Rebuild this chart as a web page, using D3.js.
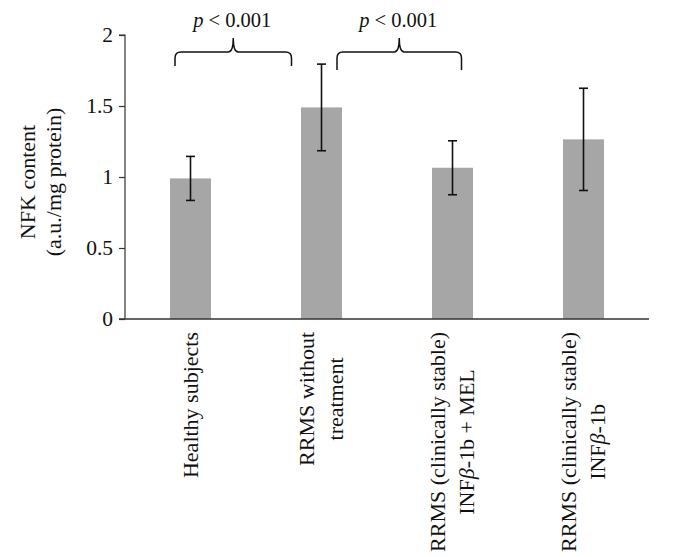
<!DOCTYPE html>
<html>
<head>
<meta charset="utf-8">
<script src="https://cdn.jsdelivr.net/npm/d3@7"></script>
<style>
  html, body { margin: 0; padding: 0; background: #fff; }
  svg { display: block; font-family: "Liberation Serif", "DejaVu Serif", serif; }
</style>
</head>
<body>
<svg id="chart" width="684" height="557"></svg>
<script>
// ---- data ----
const categories = [
  ["Healthy subjects"],
  ["RRMS without", "treatment"],
  ["RRMS (clinically stable)", "INFβ-1b + MEL"],
  ["RRMS (clinically stable)", "INFβ-1b"]
];
const values = [0.99, 1.49, 1.065, 1.265];
const errors = [0.155, 0.305, 0.19, 0.36];
const yTicks = [0, 0.5, 1, 1.5, 2];
const yTickLabels = ["0", "0.5", "1", "1.5", "2"];
const yLabel = ["NFK content", "(a.u./mg protein)"];
const comparisons = [
  { from: 0, to: 1, label: "< 0.001" },
  { from: 1, to: 2, label: "< 0.001" }
];

// ---- layout ----
const svg = d3.select("#chart");
const mLeft = 125, mRight = 649, mTop = 35, mBottom = 319;
const labelFont = 22, tickFont = 21.5, pFont = 20.5;

const x = d3.scaleBand().domain(d3.range(categories.length)).range([mLeft, mRight]).padding(0);
const y = d3.scaleLinear().domain([0, 2]).range([mBottom, mTop]);
const barW = x.bandwidth() * 0.313;
const cx = i => x(i) + x.bandwidth() / 2;

// bars
svg.append("g").selectAll("rect").data(values).join("rect")
  .attr("x", (d, i) => cx(i) - barW / 2)
  .attr("y", d => y(d))
  .attr("width", barW)
  .attr("height", d => y(0) - y(d))
  .attr("fill", "#a6a6a6");

// error bars
const eg = svg.append("g").attr("stroke", "#111").attr("stroke-width", 1.6);
values.forEach((v, i) => {
  const x0 = cx(i), hi = y(v + errors[i]), lo = y(v - errors[i]);
  eg.append("line").attr("x1", x0).attr("x2", x0).attr("y1", hi).attr("y2", lo);
  eg.append("line").attr("x1", x0 - 4.5).attr("x2", x0 + 4.5).attr("y1", hi).attr("y2", hi);
  eg.append("line").attr("x1", x0 - 4.5).attr("x2", x0 + 4.5).attr("y1", lo).attr("y2", lo);
});

// y axis
const yAxis = d3.axisLeft(y).tickValues(yTicks).tickFormat((d, i) => yTickLabels[i]).tickSize(6).tickPadding(6);
const ya = svg.append("g").attr("transform", `translate(${mLeft},0)`).call(yAxis);
ya.select(".domain").attr("stroke", "#333").attr("stroke-width", 1.2).attr("d", `M-6,${mTop}H0V${mBottom}`);
ya.selectAll(".tick line").attr("stroke", "#333").attr("stroke-width", 1.2);
ya.selectAll(".tick text").attr("font-family", "Liberation Serif").attr("font-size", tickFont).attr("fill", "#111");

// x axis line
const xAxis = d3.axisBottom(x).tickSize(0).tickFormat("");
const xa = svg.append("g").attr("transform", `translate(0,${mBottom})`).call(xAxis);
xa.select(".domain").attr("stroke", "#333").attr("stroke-width", 1.4).attr("d", `M${mLeft - 6},0H${mRight}`);

// x category labels (rotated, block top-aligned, lines centered)
categories.forEach((lines, i) => {
  const g = svg.append("g");
  const texts = lines.map(line => {
    const t = g.append("text").attr("font-size", labelFont).attr("fill", "#111").attr("text-anchor", "middle");
    const parts = line.split("β");
    parts.forEach((p, k) => {
      t.append("tspan").text(p);
      if (k < parts.length - 1) t.append("tspan").attr("font-style", "italic").text("β");
    });
    return t;
  });
  const maxW = d3.max(texts, t => t.node().getComputedTextLength());
  const lineGap = 28.5;
  const n = lines.length;
  texts.forEach((t, k) => {
    const off = (k - (n - 1) / 2) * lineGap;
    const px = cx(i) + off + 7;
    const py = mBottom + 13 + maxW / 2;
    t.attr("transform", `translate(${px},${py}) rotate(-90)`);
  });
});

// y label
const yl = svg.append("text").attr("font-size", labelFont).attr("fill", "#111").attr("text-anchor", "middle")
  .attr("transform", `translate(35,182) rotate(-90)`);
yLabel.forEach((l, k) => yl.append("tspan").attr("x", 0).attr("dy", k === 0 ? 0 : 25.5).text(l));

// significance brackets
const brGeom = [
  { x1: cx(0) - 15.5, x2: cx(1) - 30, h: 52, end: 66, peak: 38 },
  { x1: cx(1) + 15.5, x2: cx(2) + 9, h: 52, end: 70, peak: 38 }
];
comparisons.forEach((c, k) => {
  const g = brGeom[k];
  const xm = (g.x1 + g.x2) / 2;
  const r = 6;
  const p = `M${g.x1},${g.end} L${g.x1},${g.h + r} Q${g.x1},${g.h} ${g.x1 + r},${g.h} L${xm - 5},${g.h} Q${xm},${g.h} ${xm},${g.peak} Q${xm},${g.h} ${xm + 5},${g.h} L${g.x2 - r},${g.h} Q${g.x2},${g.h} ${g.x2},${g.h + r} L${g.x2},${g.end}`;
  svg.append("path").attr("d", p).attr("fill", "none").attr("stroke", "#111").attr("stroke-width", 1.5);
  const t = svg.append("text").attr("x", xm - 1).attr("y", 27).attr("font-size", pFont).attr("fill", "#111").attr("text-anchor", "middle");
  t.append("tspan").attr("font-style", "italic").text("p");
  t.append("tspan").text(" " + c.label);
});
</script>
</body>
</html>
